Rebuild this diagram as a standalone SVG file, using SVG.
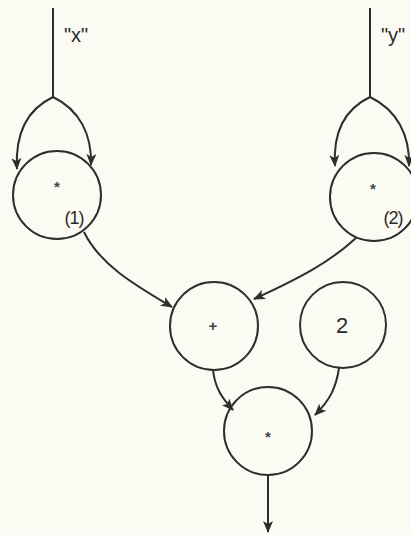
<svg xmlns="http://www.w3.org/2000/svg" width="411" height="535" viewBox="0 0 411 535">
<style>
.bg{fill:#fbfbf4}
.node{fill:none;stroke:#2e2e2e;stroke-width:2}
.edge{fill:none;stroke:#2e2e2e;stroke-width:2}
.lbl{font-family:"Liberation Sans",Arial,sans-serif;fill:#2a2a2a;text-anchor:middle}
.op{font-family:"Liberation Sans",sans-serif;font-size:15px;font-weight:bold;fill:#444;text-anchor:middle}
</style>
<defs>
<marker id="ah" markerWidth="12" markerHeight="10" refX="11" refY="5" orient="auto" markerUnits="userSpaceOnUse">
<path d="M0,0 L12,5 L0,10 L3,5 z" fill="#2e2e2e"/>
</marker>
</defs>
<rect class="bg" x="0" y="0" width="411" height="535"/>
<g id="connectors">
<path class="edge" d="M53,8 L53,97"/>
<path class="edge" d="M53,97 C26,110 15,135 17,169" marker-end="url(#ah)"/>
<path class="edge" d="M53,97 C80,110 92,135 91,165" marker-end="url(#ah)"/>
<path class="edge" d="M370,8 L370,97"/>
<path class="edge" d="M370,97 C343,110 333,135 335,166" marker-end="url(#ah)"/>
<path class="edge" d="M370,97 C397,110 410,135 409,166" marker-end="url(#ah)"/>
<path class="edge" d="M84,232 C100,265 135,285 172,307" marker-end="url(#ah)"/>
<path class="edge" d="M356,238 C330,262 300,278 254,299" marker-end="url(#ah)"/>
<path class="edge" d="M213,370 C215,388 222,398 233,410" marker-end="url(#ah)"/>
<path class="edge" d="M339,368 C336,388 330,400 315,415" marker-end="url(#ah)"/>
<path class="edge" d="M268,475 L268,532" marker-end="url(#ah)"/>
</g>
<g id="label-x"><text class="lbl" x="76" y="42" font-size="20">"x"</text></g>
<g id="label-y"><text class="lbl" x="393" y="42" font-size="20">"y"</text></g>
<g id="mul1">
<circle class="node" cx="57" cy="195" r="44"/>
<text class="op" x="57" y="192">*</text>
<text class="lbl" x="74" y="224" font-size="18" letter-spacing="-1">(1)</text>
</g>
<g id="mul2">
<circle class="node" cx="374" cy="197" r="44"/>
<text class="op" x="373" y="194">*</text>
<text class="lbl" x="393" y="224" font-size="18" letter-spacing="-1">(2)</text>
</g>
<g id="plus">
<circle class="node" cx="214" cy="326" r="44"/>
<text class="op" x="213" y="331">+</text>
</g>
<g id="const2">
<circle class="node" cx="343" cy="325" r="43"/>
<text class="lbl" x="342" y="333" font-size="22">2</text>
</g>
<g id="mul3">
<circle class="node" cx="268" cy="431" r="44"/>
<text class="op" x="268" y="442">*</text>
</g>
</svg>
